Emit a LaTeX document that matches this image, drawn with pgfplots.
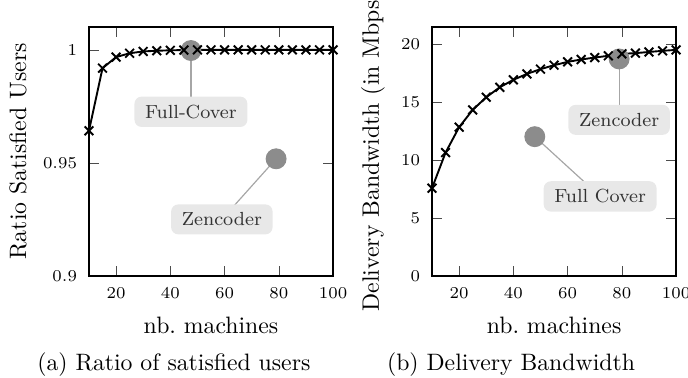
\documentclass[border=0pt]{standalone}
\usepackage{pgfplots}
\pgfplotsset{compat=1.18}
\definecolor{circ}{gray}{0.55}
\definecolor{boxf}{gray}{0.91}
\tikzset{lbl/.style={fill=boxf, rounded corners=3pt, inner xsep=4.5pt, inner ysep=3.5pt, font=\footnotesize, text=black!80},
  conn/.style={draw=gray!70, line width=0.5pt}}
\pgfplotsset{common/.style={
  scale only axis, width=102.9pt, height=105pt,
  xmin=10, xmax=100, xtick={20,40,60,80,100},
  tick label style={font=\scriptsize},
  xlabel={nb.\ machines},
  xlabel style={yshift=-1pt},
  yticklabel style={xshift=-1.5pt},
  xticklabel style={yshift=-1.5pt},
  axis line style={line width=0.6pt},
  tick style={black!70},
}}
\begin{document}
\begin{tikzpicture}
\begin{axis}[common, at={(37.5pt,43pt)}, anchor=south west,
  ymin=0.9, ymax=1.0102, ytick={0.9,0.95,1},
  ylabel={Ratio Satisfied Users}]
\draw[conn] (axis cs:47.6,0.9997) -- (axis cs:47.6,0.9726);
\draw[conn] (axis cs:79,0.9518) -- (axis cs:59,0.925);
\addplot[only marks, mark=*, mark size=4.2pt, circ] coordinates {(47.6,0.9997) (79,0.9518)};
\addplot[black, thick, mark=x, mark size=2.6pt, mark options={thick}] coordinates {
(10,0.9642) (15,0.9919) (20,0.9968) (25,0.9985) (30,0.9993) (35,0.9996) (40,0.9998)
(45,0.9999) (50,1.0) (55,1.0) (60,1.0) (65,1.0) (70,1.0) (75,1.0) (80,1.0)
(85,1.0) (90,1.0) (95,1.0) (100,1.0)};
\node[lbl] at (axis cs:47.6,0.9726) {Full-Cover};
\node[lbl] at (axis cs:59,0.925) {Zencoder};
\end{axis}
\begin{axis}[common, at={(182.1pt,43pt)}, anchor=south west,
  ymin=0, ymax=21.47, ytick={0,5,10,15,20},
  ylabel={Delivery Bandwidth (in Mbps)}]
\draw[conn] (axis cs:79,18.7) -- (axis cs:79,13.45);
\draw[conn] (axis cs:47.9,12.0) -- (axis cs:72,6.85);
\addplot[only marks, mark=*, mark size=4.2pt, circ] coordinates {(47.9,12.0) (79,18.7)};
\addplot[black, thick, mark=x, mark size=2.6pt, mark options={thick}] coordinates {
(10,7.56) (15,10.63) (20,12.82) (25,14.31) (30,15.4) (35,16.26) (40,16.9)
(45,17.41) (50,17.82) (55,18.16) (60,18.45) (65,18.65) (70,18.82) (75,18.97)
(80,19.14) (85,19.2) (90,19.3) (95,19.4) (100,19.48)};
\node[lbl] at (axis cs:79,13.45) {Zencoder};
\node[lbl] at (axis cs:72,6.85) {Full Cover};
\end{axis}
\node at (73.3pt,5.6pt) {(a) Ratio of satisfied users};
\node at (215.4pt,5.6pt) {(b) Delivery Bandwidth};
\pgfresetboundingbox
\useasboundingbox (0,0) rectangle (290pt,159.3pt);
\end{tikzpicture}
\end{document}
